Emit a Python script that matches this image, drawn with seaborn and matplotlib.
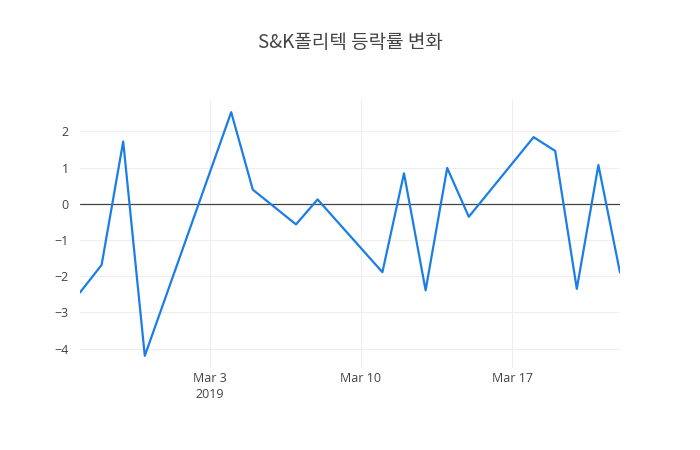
import pandas as pd
import matplotlib.pyplot as plt
import seaborn as sns

# --- data ---
dates = ["2019-02-25", "2019-02-26", "2019-02-27", "2019-02-28",
         "2019-03-04", "2019-03-05", "2019-03-07", "2019-03-08",
         "2019-03-11", "2019-03-12", "2019-03-13", "2019-03-14", "2019-03-15",
         "2019-03-18", "2019-03-19", "2019-03-20", "2019-03-21", "2019-03-22"]
change_pct = [-2.45, -1.69, 1.72, -4.20,
              2.53, 0.39, -0.57, 0.12,
              -1.89, 0.84, -2.39, 0.99, -0.36,
              1.84, 1.46, -2.35, 1.07, -1.90]

title = "S&K폴리텍 등락률 변화"
x_ticks = ["2019-03-03", "2019-03-10", "2019-03-17"]
x_tick_labels = ["Mar 3\n2019", "Mar 10", "Mar 17"]
y_ticks = [-4, -3, -2, -1, 0, 1, 2]

df = pd.DataFrame({"date": pd.to_datetime(dates), "change": change_pct})

sns.set_style("white")
plt.rcParams["font.family"] = ["Noto Sans CJK KR", "DejaVu Sans"]
tick_font = ["Open Sans", "DejaVu Sans"]

fig = plt.figure(figsize=(7, 4.5), dpi=100)
ax = fig.add_axes([80 / 700, 1 - 368 / 450, 540 / 700, 268 / 450])

sns.lineplot(data=df, x="date", y="change", ax=ax, color="#1a7ee6", linewidth=1.6)

# zero line
ax.axhline(0, color="#444444", linewidth=0.9, zorder=1)

ax.set_xlim(df["date"].min(), df["date"].max())
lo, hi = min(change_pct), max(change_pct)
pad = (hi - lo) * 0.05
ax.set_ylim(lo - pad, hi + pad)

ax.set_xticks(pd.to_datetime(x_ticks))
ax.set_xticklabels(x_tick_labels, fontsize=9, color="#444444",
                   linespacing=1.25, family=tick_font)
ax.set_yticks(y_ticks)
ax.set_yticklabels([f"{v:d}".replace("-", "\u2212") for v in y_ticks],
                   fontsize=9, color="#444444", family=tick_font)
ax.tick_params(axis="x", length=0, pad=3)
ax.tick_params(axis="y", length=0, pad=8)

ax.grid(True, color="#eeeeee", linewidth=0.8)
ax.set_axisbelow(True)
for s in ax.spines.values():
    s.set_visible(False)

ax.set_xlabel("")
ax.set_ylabel("")

fig.text(0.5, 1 - 43 / 450, title, ha="center", va="center",
         fontsize=13.7, color="#444444")

fig.savefig("out.png", dpi=100)
